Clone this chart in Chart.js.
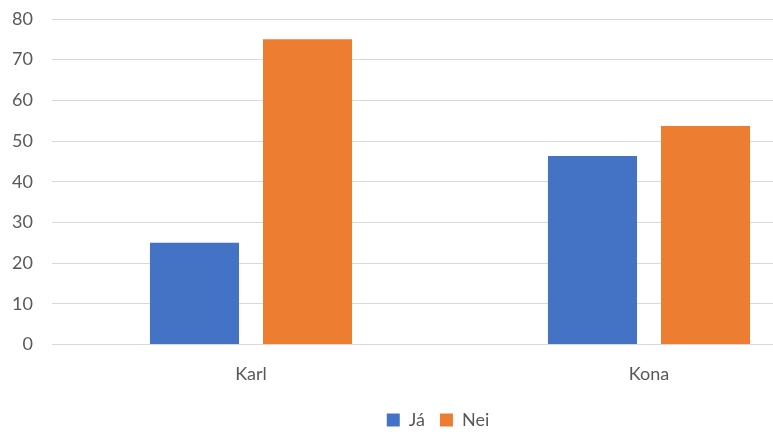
<!DOCTYPE html>
<html>
<head>
<meta charset="utf-8">
<script src="https://cdn.jsdelivr.net/npm/chart.js@4"></script>
<style>
  html, body { margin: 0; padding: 0; background: #fff; }
  /* el gráfico original está recortado a la derecha: el lienzo es más ancho que la ventana */
  #marco { width: 773px; height: 432px; overflow: hidden; position: relative; }
  #lienzo { position: absolute; left: 0; top: 0; width: 876px; height: 432px; }
</style>
</head>
<body>
<div id="marco">
  <div id="lienzo"><canvas id="grafico"></canvas></div>
</div>
<script>
// Datos
const categorias = ['Karl', 'Kona'];
const valoresJa = [25, 46.3];
const valoresNei = [75, 53.7];
const ejeYMax = 80;
const ejeYPaso = 10;

const GRIS_TEXTO = '#595959';
const GRIS_LINEA = '#d9d9d9';
const FUENTE = "Lato, 'Noto Sans', sans-serif";

new Chart(document.getElementById('grafico').getContext('2d'), {
    type: 'bar',
    data: {
        labels: categorias,
        datasets: [
            { label: 'Já',  data: valoresJa,  backgroundColor: '#4472C4' },
            { label: 'Nei', data: valoresNei, backgroundColor: '#ED7D31' },
        ],
    },
    options: {
        responsive: true,
        maintainAspectRatio: false,
        animation: false,
        categoryPercentage: 0.568,
        barPercentage: 0.788,
        // el padding inferior negativo baja la leyenda hasta donde está en la imagen
        layout: { padding: { top: 0, right: 0, bottom: -7, left: 0 } },
        plugins: {
            legend: {
                position: 'bottom',
                labels: {
                    boxWidth: 13,
                    boxHeight: 13,
                    padding: 15,
                    color: GRIS_TEXTO,
                    font: { family: FUENTE, size: 18 },
                },
            },
            tooltip: { enabled: false },
        },
        scales: {
            x: {
                grid: { display: false },
                border: { display: false },
                ticks: { color: GRIS_TEXTO, font: { family: FUENTE, size: 18 }, padding: 11 },
            },
            y: {
                min: 0,
                max: ejeYMax,
                ticks: {
                    stepSize: ejeYPaso,
                    color: GRIS_TEXTO,
                    font: { family: FUENTE, size: 18 },
                    padding: 19,
                },
                grid: { color: GRIS_LINEA, lineWidth: 1, drawTicks: false },
                border: { display: false },
                afterFit: (escala) => {
                    escala.width = 52;
                    escala.paddingTop = 19;
                },
            },
            // eje vacío a la derecha: reserva margen sin descentrar la leyenda
            margen: {
                position: 'right',
                min: 0,
                max: 1,
                ticks: { display: false },
                grid: { display: false },
                border: { display: false },
                afterFit: (escala) => { escala.width = 28; },
            },
        },
    },
});
</script>
</body>
</html>
